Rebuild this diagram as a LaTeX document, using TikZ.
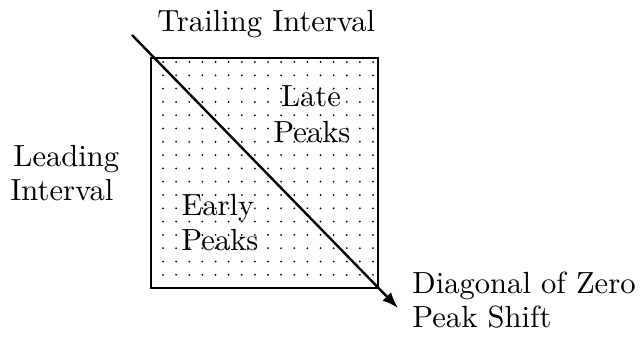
\documentclass[tikz,border=0pt]{standalone}
\usepackage{fontspec}
\newfontfamily\lmten[Extension=.otf]{lmroman10-regular}
\usetikzlibrary{arrows.meta}
\begin{document}
\begin{tikzpicture}[x=0.5pt,y=-0.5pt,
  lbl/.style={inner sep=0pt,font=\lmten\fontsize{15.3}{17}\selectfont},
  frame/.style={draw=black,line width=0.7pt},
  diag/.style={line width=1.2pt,-{Latex[length=8pt,width=6pt]}}]
\useasboundingbox (0,0) rectangle (643,342);
% dotted field
\foreach \i in {0,...,16}{
  \foreach \j in {0,...,16}{
    \fill (163+13.125*\i,62+13.3*\j) circle (0.5pt);
  }
}
\draw[frame] (151,58) coordinate (tl) rectangle (378,288) coordinate (br);
\coordinate (ds) at (132,35);
\coordinate (de) at (398,308);
\draw[diag] (ds) -- (de);
% labels
\node[lbl,anchor=base west] (trail) at (157,32) {Trailing Interval};
\node[lbl,anchor=base west] (lead1) at (13,167) {Leading};
\node[lbl,anchor=base west] (lead2) at (10,200) {Interval};
\node[lbl,anchor=base] (late1) at (311,107) {Late};
\node[lbl,anchor=base] (late2) at (312,142) {Peaks};
\node[lbl,anchor=base] (early1) at (218,215) {Early};
\node[lbl,anchor=base] (early2) at (220,250) {Peaks};
\node[lbl,anchor=base west] (diag1) at (412,293) {Diagonal of Zero};
\node[lbl,anchor=base west] (diag2) at (412,327) {Peak Shift};
\end{tikzpicture}
\end{document}
